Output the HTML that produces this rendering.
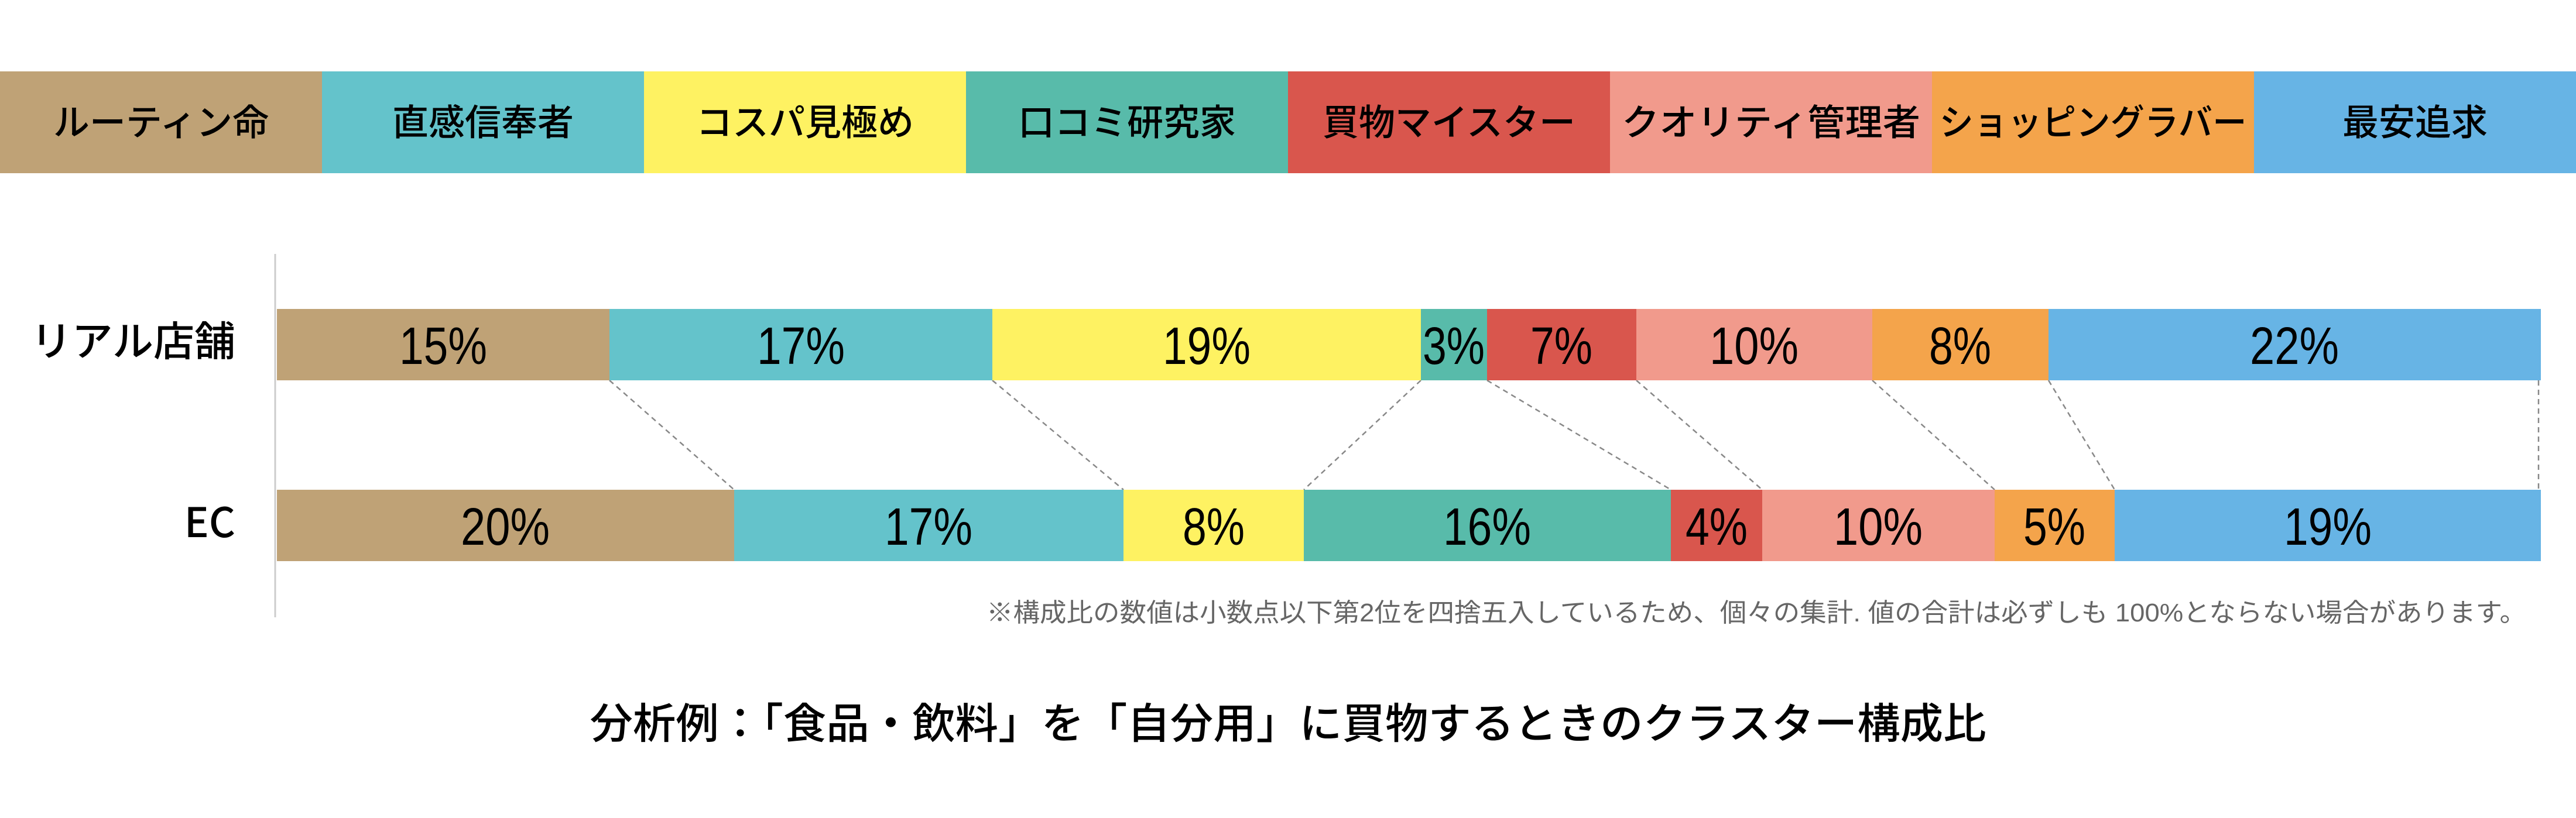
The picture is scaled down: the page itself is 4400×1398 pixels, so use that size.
<!DOCTYPE html>
<html><head><meta charset="utf-8"><style>html,body{margin:0;padding:0;background:#fff}svg{display:block}</style></head>
<body>
<svg width="4400" height="1398" viewBox="0 0 4400 1398" xmlns="http://www.w3.org/2000/svg" font-family="'Liberation Sans','Noto Sans CJK JP',sans-serif">
<g>
<rect x="0" y="122" width="550" height="174" fill="#BFA276"/>
<rect x="550" y="122" width="550" height="174" fill="#64C3CB"/>
<rect x="1100" y="122" width="550" height="174" fill="#FEF262"/>
<rect x="1650" y="122" width="550" height="174" fill="#58BBAA"/>
<rect x="2200" y="122" width="550" height="174" fill="#D9564D"/>
<rect x="2750" y="122" width="550" height="174" fill="#F19A8C"/>
<rect x="3300" y="122" width="550" height="174" fill="#F4A44B"/>
<rect x="3850" y="122" width="550" height="174" fill="#67B4E5"/>
</g>
<g font-family="'Noto Sans CJK JP',sans-serif" font-size="62" font-weight="500" text-anchor="middle" fill="#000">
<text x="275" y="231">ルーティン命</text>
<text x="825" y="231">直感信奉者</text>
<text x="1375" y="231">コスパ見極め</text>
<text x="1925" y="231">口コミ研究家</text>
<text x="2475" y="231">買物マイスター</text>
<text x="3025" y="231" textLength="510" lengthAdjust="spacingAndGlyphs">クオリティ管理者</text>
<text x="3575" y="231" textLength="525" lengthAdjust="spacingAndGlyphs">ショッピングラバー</text>
<text x="4125" y="231">最安追求</text>
</g>
<line x1="470" y1="434" x2="470" y2="1055" stroke="#ccc" stroke-width="3"/>
<g font-family="'Noto Sans CJK JP',sans-serif" font-size="70" font-weight="500" text-anchor="end" fill="#000">
<text x="402" y="608">リアル店舗</text>
<text x="402" y="918">EC</text>
</g>
<g stroke="#888" stroke-width="2.5" stroke-dasharray="9,7" fill="none">
<line x1="1041" y1="650" x2="1254" y2="837"/>
<line x1="1695" y1="650" x2="1919" y2="837"/>
<line x1="2427" y1="650" x2="2227" y2="837"/>
<line x1="2540" y1="650" x2="2854" y2="837"/>
<line x1="2795" y1="650" x2="3010" y2="837"/>
<line x1="3198" y1="650" x2="3407" y2="837"/>
<line x1="3499" y1="650" x2="3612" y2="837"/>
<line x1="4336" y1="650" x2="4336" y2="837"/>
</g>
<g>
<rect x="473" y="528" width="568" height="122" fill="#BFA276"/>
<rect x="1041" y="528" width="654" height="122" fill="#64C3CB"/>
<rect x="1695" y="528" width="732" height="122" fill="#FEF262"/>
<rect x="2427" y="528" width="113" height="122" fill="#58BBAA"/>
<rect x="2540" y="528" width="255" height="122" fill="#D9564D"/>
<rect x="2795" y="528" width="403" height="122" fill="#F19A8C"/>
<rect x="3198" y="528" width="301" height="122" fill="#F4A44B"/>
<rect x="3499" y="528" width="841" height="122" fill="#67B4E5"/>
<rect x="473" y="837" width="781" height="122" fill="#BFA276"/>
<rect x="1254" y="837" width="665" height="122" fill="#64C3CB"/>
<rect x="1919" y="837" width="308" height="122" fill="#FEF262"/>
<rect x="2227" y="837" width="627" height="122" fill="#58BBAA"/>
<rect x="2854" y="837" width="156" height="122" fill="#D9564D"/>
<rect x="3010" y="837" width="397" height="122" fill="#F19A8C"/>
<rect x="3407" y="837" width="205" height="122" fill="#F4A44B"/>
<rect x="3612" y="837" width="728" height="122" fill="#67B4E5"/>
</g>
<g font-family="'Liberation Sans',sans-serif" font-size="90" text-anchor="middle" fill="#000">
<text x="757" y="622" textLength="150" lengthAdjust="spacingAndGlyphs">15%</text>
<text x="1368" y="622" textLength="150" lengthAdjust="spacingAndGlyphs">17%</text>
<text x="2061" y="622" textLength="150" lengthAdjust="spacingAndGlyphs">19%</text>
<text x="2483" y="622" textLength="106" lengthAdjust="spacingAndGlyphs">3%</text>
<text x="2667" y="622" textLength="106" lengthAdjust="spacingAndGlyphs">7%</text>
<text x="2996" y="622" textLength="152" lengthAdjust="spacingAndGlyphs">10%</text>
<text x="3348" y="622" textLength="106" lengthAdjust="spacingAndGlyphs">8%</text>
<text x="3919" y="622" textLength="152" lengthAdjust="spacingAndGlyphs">22%</text>
<text x="863" y="931" textLength="152" lengthAdjust="spacingAndGlyphs">20%</text>
<text x="1586" y="931" textLength="150" lengthAdjust="spacingAndGlyphs">17%</text>
<text x="2073" y="931" textLength="106" lengthAdjust="spacingAndGlyphs">8%</text>
<text x="2540" y="931" textLength="150" lengthAdjust="spacingAndGlyphs">16%</text>
<text x="2932" y="931" textLength="106" lengthAdjust="spacingAndGlyphs">4%</text>
<text x="3208" y="931" textLength="152" lengthAdjust="spacingAndGlyphs">10%</text>
<text x="3509" y="931" textLength="106" lengthAdjust="spacingAndGlyphs">5%</text>
<text x="3976" y="931" textLength="150" lengthAdjust="spacingAndGlyphs">19%</text>
</g>
<text x="4315" y="1062" text-anchor="end" font-family="'Liberation Sans','Noto Sans CJK JP',sans-serif" font-size="44" fill="#666" textLength="2630" lengthAdjust="spacingAndGlyphs">※構成比の数値は小数点以下第2位を四捨五入しているため、個々の集計. 値の合計は必ずしも 100%とならない場合があります。</text>
<text x="2200" y="1262" text-anchor="middle" font-family="'Liberation Sans','Noto Sans CJK JP',sans-serif" font-size="72" font-weight="500" fill="#000" textLength="2385" lengthAdjust="spacingAndGlyphs">分析例：「食品・飲料」を「自分用」に買物するときのクラスター構成比</text>
</svg>
</body></html>
